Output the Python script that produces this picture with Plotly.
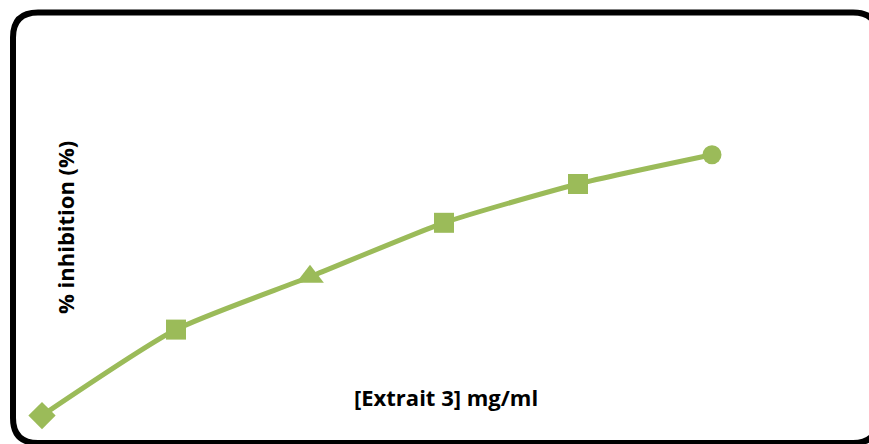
import plotly.graph_objects as go

# Extract concentration steps and measured inhibition
concentration_step = [1, 2, 3, 4, 5, 6]
inhibition_pct = [3.6, 25.1, 38.3, 51.8, 61.5, 68.8]
marker_symbols = ["diamond", "square", "triangle-up", "square", "square", "circle"]

GREEN = "#9BBB59"
W, H = 869, 444

fig = go.Figure()
fig.add_trace(go.Scatter(
    x=concentration_step,
    y=inhibition_pct,
    mode="lines+markers",
    line=dict(color=GREEN, width=5, shape="spline", smoothing=0.6),
    marker=dict(symbol=marker_symbols, size=[21, 20, 24, 20, 20, 19], color=GREEN,
                opacity=1, line=dict(width=0)),
    showlegend=False,
    hoverinfo="skip",
))


def px(x):
    return x / W


def py(y):
    return 1 - y / H


# Rounded chart frame
l, t, r, b, rad = 13, 12.5, 878, 443, 25
path = (
    f"M {px(l + rad)} {py(t)} L {px(r - rad)} {py(t)} "
    f"Q {px(r)} {py(t)} {px(r)} {py(t + rad)} "
    f"L {px(r)} {py(b - rad)} Q {px(r)} {py(b)} {px(r - rad)} {py(b)} "
    f"L {px(l + rad)} {py(b)} Q {px(l)} {py(b)} {px(l)} {py(b - rad)} "
    f"L {px(l)} {py(t + rad)} Q {px(l)} {py(t)} {px(l + rad)} {py(t)} Z"
)
fig.add_shape(type="path", path=path, xref="paper", yref="paper",
              line=dict(color="black", width=6), fillcolor="rgba(0,0,0,0)", layer="above")

font = dict(family="'Open Sans', Lato, sans-serif", size=22, color="black")
fig.add_annotation(text="<b>% inhibition (%)</b>", x=px(65), y=py(228), xref="paper", yref="paper",
                   textangle=-90, showarrow=False, font=font, xanchor="center", yanchor="middle")
fig.add_annotation(text="<b>[Extrait 3] mg/ml</b>", x=px(446), y=py(397), xref="paper", yref="paper",
                   showarrow=False, font=font, xanchor="center", yanchor="middle")

fig.update_layout(
    width=W, height=H,
    margin=dict(l=0, r=0, t=0, b=0),
    paper_bgcolor="white", plot_bgcolor="white",
    xaxis=dict(range=[1 - 42 / 134, 1 - 42 / 134 + W / 134], visible=False, fixedrange=True),
    yaxis=dict(range=[-3.5, 107.5], visible=False, fixedrange=True),
)

fig.write_html("out.html")
